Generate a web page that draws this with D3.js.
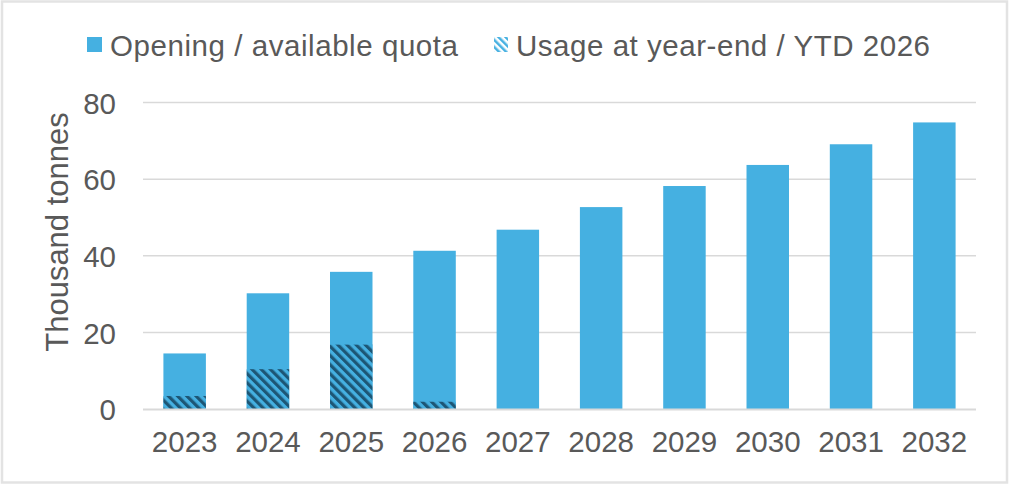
<!DOCTYPE html>
<html><head><meta charset="utf-8">
<script src="https://cdn.jsdelivr.net/npm/d3@7"></script>
<style>html,body{margin:0;padding:0;background:#fff;}svg{display:block;font-family:"Liberation Sans",Arial,sans-serif;}</style>
</head><body>
<svg id="chart" width="1010" height="485"></svg>
<script>
const years = ["2023","2024","2025","2026","2027","2028","2029","2030","2031","2032"];
const quota = [14.5, 30.2, 35.8, 41.3, 46.8, 52.7, 58.2, 63.7, 69.1, 74.8];
const usage = [3.4, 10.4, 16.8, 1.9, null, null, null, null, null, null];
const yTicks = [0, 20, 40, 60, 80];
const legendLabels = ["Opening / available quota", "Usage at year-end / YTD 2026"];

const svg = d3.select("#chart");
const W = 1010, H = 485;
const m = {left: 143, right: 976, top: 102.5, bottom: 409};
const blue = "#45B0E1", dark = "#1D5675", textCol = "#595959";
const FS = 29.5;

// border
svg.append("rect").attr("x",2).attr("y",1.5).attr("width",W-5).attr("height",H-4)
  .attr("fill","none").attr("stroke","#e3e3e3").attr("stroke-width",2.5);

const defs = svg.append("defs");
const pat = defs.append("pattern").attr("id","hatch").attr("patternUnits","userSpaceOnUse")
  .attr("width",6.5).attr("height",6.5).attr("patternTransform","rotate(-45)");
pat.append("rect").attr("width",6.5).attr("height",6.5).attr("fill",blue);
pat.append("rect").attr("x",0).attr("width",3.2).attr("height",6.5).attr("fill",dark);
const pat2 = defs.append("pattern").attr("id","hatchL").attr("patternUnits","userSpaceOnUse")
  .attr("width",5).attr("height",5).attr("patternTransform","rotate(-45)");
pat2.append("rect").attr("width",5).attr("height",5).attr("fill","#fff");
pat2.append("rect").attr("width",2.5).attr("height",5).attr("fill",blue);

const x = d3.scaleBand().domain(years).range([m.left, m.right]).paddingInner(0.49).paddingOuter(0.245);
const y = d3.scaleLinear().domain([0, 80]).range([m.bottom, m.top]);

// gridlines
svg.append("g").selectAll("line").data(yTicks.filter(d=>d>0)).join("line")
  .attr("x1", m.left).attr("x2", m.right).attr("y1", d=>y(d)).attr("y2", d=>y(d))
  .attr("stroke","#d9d9d9").attr("stroke-width",1.5);

// bars
svg.append("g").selectAll("rect").data(years).join("rect")
  .attr("x", d=>x(d)).attr("width", x.bandwidth())
  .attr("y", (d,i)=>y(quota[i])).attr("height", (d,i)=>y(0)-y(quota[i]))
  .attr("fill", blue);
svg.append("g").selectAll("rect").data(years.filter((d,i)=>usage[i]!=null)).join("rect")
  .attr("x", d=>x(d)).attr("width", x.bandwidth())
  .attr("y", d=>y(usage[years.indexOf(d)])).attr("height", d=>y(0)-y(usage[years.indexOf(d)]))
  .attr("fill", "url(#hatch)");

// baseline
svg.append("line").attr("x1", m.left).attr("x2", m.right).attr("y1", y(0)+0.5).attr("y2", y(0)+0.5)
  .attr("stroke","#d9d9d9").attr("stroke-width",2);

// y axis
const yAxis = d3.axisLeft(y).tickValues(yTicks).tickSize(0).tickPadding(0);
const gy = svg.append("g").attr("transform", `translate(116,0)`).call(yAxis);
gy.select(".domain").remove();
gy.selectAll("text").attr("font-size", FS).attr("fill", textCol).attr("font-family", "Liberation Sans, Arial, sans-serif").attr("dy","0.36em");

// x axis
const xAxis = d3.axisBottom(x).tickSize(0).tickPadding(0);
const gx = svg.append("g").attr("transform", `translate(0,${431})`).call(xAxis);
gx.select(".domain").remove();
gx.selectAll("text").attr("font-size", FS).attr("fill", textCol).attr("font-family", "Liberation Sans, Arial, sans-serif").attr("dy","0.71em");

// axis title
svg.append("text").attr("transform", `translate(68,232) rotate(-90)`).attr("text-anchor","middle")
  .attr("font-size", 31).attr("fill", textCol).text("Thousand tonnes");

// legend
const lg = svg.append("g");
lg.append("rect").attr("x",87).attr("y",37).attr("width",15).attr("height",15).attr("fill",blue);
lg.append("text").attr("x",110).attr("y",55.5).attr("font-size",FS).attr("fill",textCol)
  .attr("textLength",348).attr("lengthAdjust","spacing").text(legendLabels[0]);
lg.append("rect").attr("x",494).attr("y",37).attr("width",14).attr("height",15).attr("fill","url(#hatchL)");
lg.append("text").attr("x",516).attr("y",55.5).attr("font-size",FS).attr("fill",textCol)
  .attr("textLength",414).attr("lengthAdjust","spacing").text(legendLabels[1]);
</script>
</body></html>
